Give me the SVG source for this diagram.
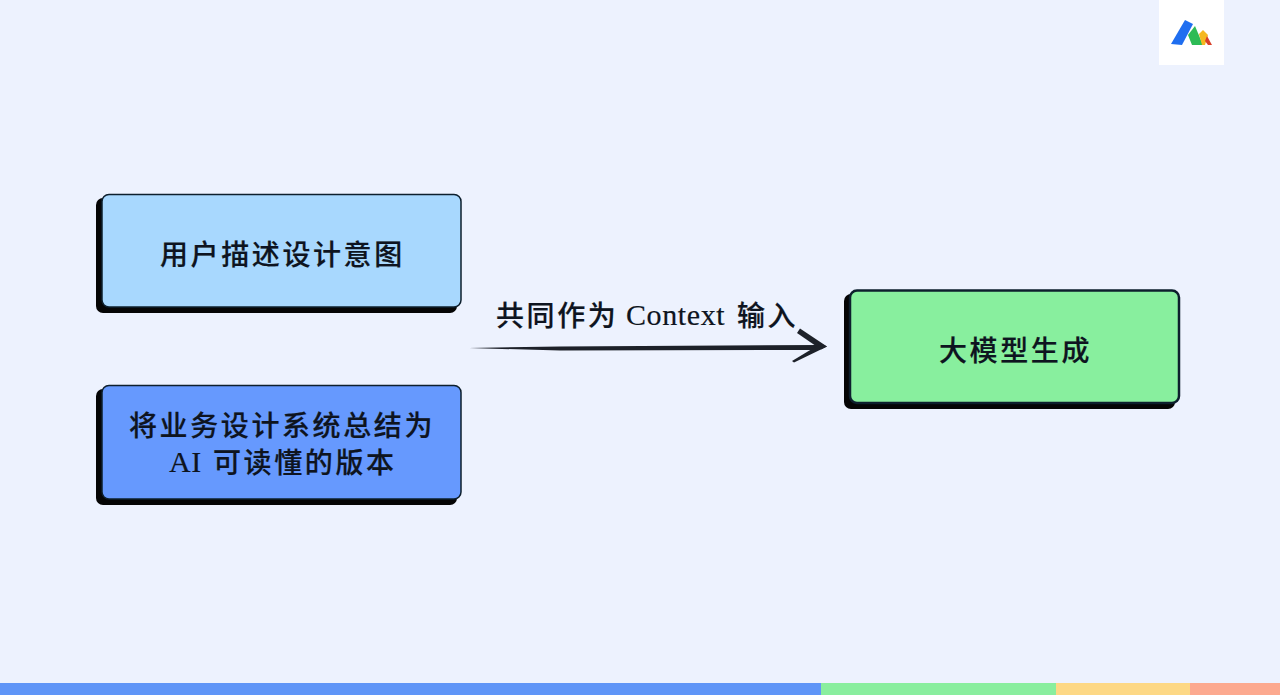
<svg xmlns="http://www.w3.org/2000/svg" width="1280" height="695" viewBox="0 0 1280 695">
<style>
.shadow{fill:#050505}
.box{stroke:#0d1f2d;stroke-width:1.5}
.t{font-family:"Noto Sans CJK SC","Liberation Serif",sans-serif;font-size:28px;font-weight:500;letter-spacing:2.6px;fill:#0e1420;stroke:#0e1420;stroke-width:.2px}
.lat{font-family:"Liberation Serif","Noto Sans CJK SC",serif;font-size:30px;font-weight:400;letter-spacing:.6px;stroke-width:.2px}
</style>
<rect width="1280" height="695" fill="#edf2fe"/>
<g id="footer">
<rect x="0" y="683" width="821" height="12" fill="#5f95f7"/>
<rect x="821" y="683" width="235" height="12" fill="#89ee9e"/>
<rect x="1056" y="683" width="134" height="12" fill="#fdd885"/>
<rect x="1190" y="683" width="90" height="12" fill="#fca98f"/>
</g>
<g id="logo">
<rect x="1159" y="0" width="65" height="65" fill="#fff"/>
<path d="M1171 44 L1185 20 L1193 24 L1182 45 Z" fill="#1f6ef0"/>
<path d="M1195 26 L1203 45 L1192 45 L1188 35 Z" fill="#2dbb55"/>
<path d="M1199 34 L1203 30 L1208 35 L1205 45 L1202 45 Z" fill="#f5b820"/>
<path d="M1207 36 L1212 45 L1208 45 L1205 41 Z" fill="#d9402a"/>
</g>
<g id="node-intent">
<rect class="shadow" x="96" y="198" width="361" height="115" rx="7"/>
<rect class="box" x="102" y="194.500" width="359" height="112.500" rx="7" fill="#a8d8fe"/>
<text class="t" x="160" y="265">用户描述设计意图</text>
</g>
<g id="node-system">
<rect class="shadow" x="96" y="389" width="361" height="116" rx="7"/>
<rect class="box" x="102" y="385.500" width="359" height="113.500" rx="7" fill="#6699fe"/>
<text class="t" x="129" y="436">将业务设计系统总结为</text>
<text class="t lat" x="169" y="472">AI</text>
<text class="t" x="213" y="473" letter-spacing="2.2">可读懂的版本</text>
</g>
<g id="node-model">
<rect class="shadow" x="844" y="294" width="331" height="115" rx="7"/>
<rect class="box" x="850" y="290.500" width="329" height="112.500" rx="7" fill="#88ef9e" style="stroke-width:2.500"/>
<text class="t" x="939" y="361">大模型生成</text>
</g>
<g id="connectors">
<path d="M469 348 L560 346.500 L820 345 L820 350 L560 350.500 Z" fill="#1d2129"/>
<path d="M797 333 L800 328.500 L827 346.500 L821 349.500 Z" fill="#1d2129"/>
<path d="M792 361 L821 343.500 L827 346.500 L794 362.500 Z" fill="#1d2129"/>
<text class="t" x="496" y="326" letter-spacing="2">共同作为</text>
<text class="t lat" x="626" y="325">Context</text>
<text class="t" x="737" y="326" letter-spacing="0.5">输入</text>
</g>
</svg>
